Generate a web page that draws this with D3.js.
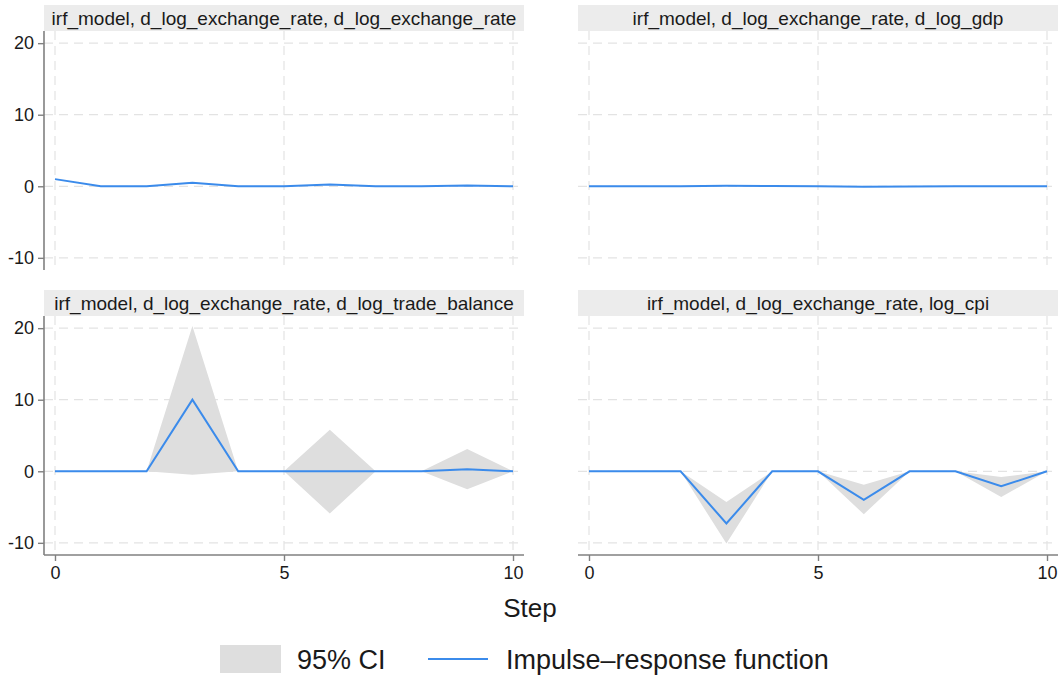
<!DOCTYPE html>
<html>
<head>
<meta charset="utf-8">
<script src="https://cdn.jsdelivr.net/npm/d3@7"></script>
<style>
  html, body { margin: 0; padding: 0; background: #ffffff; }
  svg { display: block; font-family: "Liberation Sans", Arial, sans-serif; }
</style>
</head>
<body>
<svg id="chart" width="1062" height="679"></svg>
<script>
// ---- data ----
const steps = [0, 1, 2, 3, 4, 5, 6, 7, 8, 9, 10];
const panelTitles = [
  "irf_model, d_log_exchange_rate, d_log_exchange_rate",
  "irf_model, d_log_exchange_rate, d_log_gdp",
  "irf_model, d_log_exchange_rate, d_log_trade_balance",
  "irf_model, d_log_exchange_rate, log_cpi"
];
const irfExchange = [1.0, 0, 0, 0.5, 0, 0, 0.25, 0, 0, 0.12, 0];
const lowerExchange = [1.0, 0, 0, 0.45, 0, 0, 0.2, 0, 0, 0.08, 0];
const upperExchange = [1.0, 0, 0, 0.55, 0, 0, 0.3, 0, 0, 0.16, 0];
const irfGdp = [0, 0, 0, 0.08, 0.03, 0, -0.08, -0.02, 0, 0.02, 0];
const lowerGdp = [0, 0, 0, 0.05, 0.02, 0, -0.1, -0.03, 0, 0.01, 0];
const upperGdp = [0, 0, 0, 0.1, 0.04, 0, -0.06, -0.01, 0, 0.03, 0];
const irfTrade = [0, 0, 0, 10.0, 0, 0, 0, 0, 0, 0.3, 0];
const lowerTrade = [0, 0, 0, -0.5, 0, 0, -5.9, 0, 0, -2.5, 0];
const upperTrade = [0, 0, 0, 20.3, 0, 0, 5.8, 0, 0, 3.1, 0];
const irfCpi = [0, 0, 0, -7.3, 0, 0, -4.0, 0, 0, -2.1, 0];
const lowerCpi = [0, 0, 0, -10.1, 0, 0, -6.0, 0, 0, -3.6, 0];
const upperCpi = [0, 0, 0, -4.3, 0, 0, -1.9, 0, 0, -0.8, 0];
const yTicks = [-10, 0, 10, 20];
const xTicks = [0, 5, 10];
const xLabel = "Step";
const legendLabels = ["95% CI", "Impulse\u2013response function"];

const panels = [
  { title: panelTitles[0], irf: irfExchange, lo: lowerExchange, hi: upperExchange, col: 0, row: 0 },
  { title: panelTitles[1], irf: irfGdp, lo: lowerGdp, hi: upperGdp, col: 1, row: 0 },
  { title: panelTitles[2], irf: irfTrade, lo: lowerTrade, hi: upperTrade, col: 0, row: 1 },
  { title: panelTitles[3], irf: irfCpi, lo: lowerCpi, hi: upperCpi, col: 1, row: 1 }
];

// ---- layout ----
const svg = d3.select("#chart");
const colX = [44, 578];
const plotW = 480;
const rowStripY = [5, 290];
const stripH = 26;
const plotH = 239;
const lineColor = "#3b8beb";
const ciColor = "#dedede";
const gridColor = "#e3e3e3";
const axisColor = "#808080";

const x = d3.scaleLinear().domain([-0.24, 10.24]).range([0, plotW]);
const y = d3.scaleLinear().domain([-11.7, 21.7]).range([plotH, 0]);

panels.forEach(p => {
  const gx = colX[p.col];
  const gy = rowStripY[p.row] + stripH;
  // strip
  svg.append("rect")
    .attr("x", gx).attr("y", rowStripY[p.row])
    .attr("width", plotW).attr("height", stripH)
    .attr("fill", "#ececec");
  svg.append("text")
    .attr("x", gx + plotW / 2).attr("y", rowStripY[p.row] + 19.5)
    .attr("text-anchor", "middle")
    .attr("font-size", 19).attr("fill", "#1a1a1a")
    .text(p.title);

  const g = svg.append("g").attr("transform", `translate(${gx},${gy})`);
  // grid
  g.selectAll(".hg").data(yTicks).enter().append("line")
    .attr("x1", 0).attr("x2", plotW)
    .attr("y1", d => y(d)).attr("y2", d => y(d))
    .attr("stroke", gridColor).attr("stroke-width", 1.2)
    .attr("stroke-dasharray", "9,6");
  g.selectAll(".vg").data(xTicks).enter().append("line")
    .attr("y1", 0).attr("y2", plotH)
    .attr("x1", d => x(d)).attr("x2", d => x(d))
    .attr("stroke", gridColor).attr("stroke-width", 1.2)
    .attr("stroke-dasharray", "9,6");

  const rows = steps.map((s, i) => ({ s, v: p.irf[i], lo: p.lo[i], hi: p.hi[i] }));
  // CI band
  g.append("path").datum(rows)
    .attr("fill", ciColor)
    .attr("d", d3.area().x(d => x(d.s)).y0(d => y(d.lo)).y1(d => y(d.hi)));
  // IRF line
  g.append("path").datum(rows)
    .attr("fill", "none").attr("stroke", lineColor).attr("stroke-width", 2)
    .attr("stroke-linejoin", "miter")
    .attr("d", d3.line().x(d => x(d.s)).y(d => y(d.v)));

  // y axis on left column
  if (p.col === 0) {
    const ya = g.append("g").call(d3.axisLeft(y).tickValues(yTicks).tickSize(6).tickPadding(4).tickFormat(d3.format("d")));
    ya.select(".domain").attr("stroke", axisColor).attr("stroke-width", 1.6).attr("d", `M0,0V${plotH}`);
    ya.selectAll(".tick line").attr("stroke", axisColor).attr("stroke-width", 1.4);
    ya.selectAll(".tick text").attr("font-size", 18).attr("fill", "#1a1a1a")
      .attr("font-family", "Liberation Sans, Arial, sans-serif").text(d => d < 0 ? "-" + Math.abs(d) : d);
  }
  // x axis on bottom row
  if (p.row === 1) {
    const xa = g.append("g").attr("transform", `translate(0,${plotH})`)
      .call(d3.axisBottom(x).tickValues(xTicks).tickSize(6).tickPadding(5).tickFormat(d3.format("d")));
    xa.select(".domain").attr("stroke", axisColor).attr("stroke-width", 1.6).attr("d", `M0,0H${plotW}`);
    xa.selectAll(".tick line").attr("stroke", axisColor).attr("stroke-width", 1.4);
    xa.selectAll(".tick text").attr("font-size", 18).attr("fill", "#1a1a1a")
      .attr("font-family", "Liberation Sans, Arial, sans-serif");
  }
});

// x axis title
svg.append("text")
  .attr("x", 530).attr("y", 617)
  .attr("text-anchor", "middle").attr("font-size", 26).attr("fill", "#1a1a1a")
  .text(xLabel);

// legend
const lg = svg.append("g");
lg.append("rect").attr("x", 220).attr("y", 645).attr("width", 61).attr("height", 28).attr("fill", ciColor);
lg.append("text").attr("x", 297).attr("y", 669).attr("font-size", 27).attr("fill", "#1a1a1a").text(legendLabels[0]);
lg.append("line").attr("x1", 428).attr("x2", 488).attr("y1", 659).attr("y2", 659)
  .attr("stroke", lineColor).attr("stroke-width", 2);
lg.append("text").attr("x", 506).attr("y", 669).attr("font-size", 27).attr("fill", "#1a1a1a").text(legendLabels[1]);
</script>
</body>
</html>
